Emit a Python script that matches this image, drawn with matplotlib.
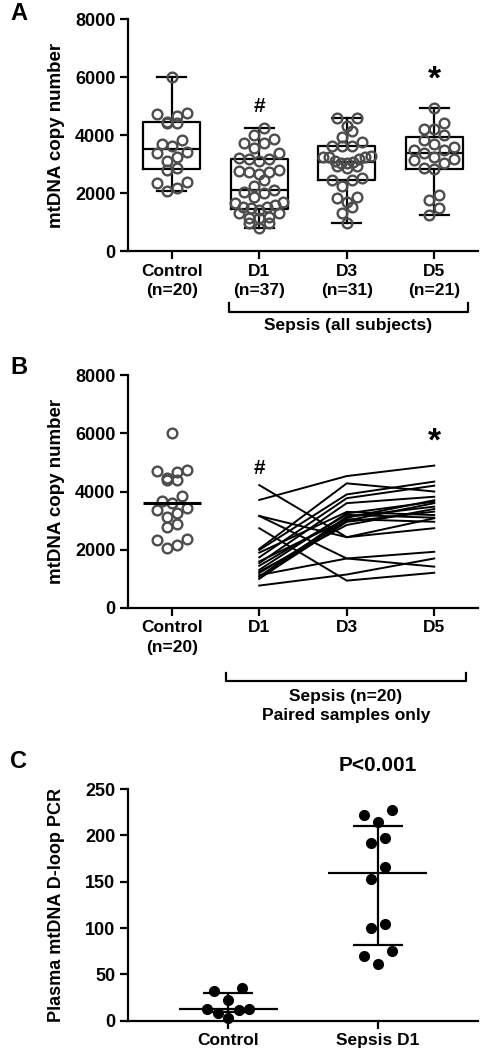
import numpy as np
import matplotlib
matplotlib.use("Agg")
import matplotlib.pyplot as plt

plt.rcParams["font.family"] = ["Liberation Sans", "DejaVu Sans"]
plt.rcParams["font.weight"] = "bold"
plt.rcParams["axes.labelweight"] = "bold"

# ---------- Data ----------
groups_a = ["Control\n(n=20)", "D1\n(n=37)", "D3\n(n=31)", "D5\n(n=21)"]
control = [6000, 4750, 4660, 4405, 4405, 4460, 4715, 3830, 3620, 3680,
           3250, 3370, 3425, 3115, 2875, 2795, 2335, 2070, 2160, 2370]
d1_all = [4230, 4000, 3715, 3715, 3850, 3565, 3390, 3165, 3115, 3165,
          3220, 2795, 2740, 2655, 2450, 2740, 2770, 2240, 2100, 1875,
          1990, 2045, 1590, 1400, 1475, 1530, 1530, 1185, 1130, 1300,
          1300, 1130, 955, 780, 955, 1700, 1650]
d3_all = [4580, 4580, 4310, 4140, 3945, 3770, 3620, 3620, 3620, 3250,
          3165, 3280, 3250, 3250, 3025, 2930, 2855, 2930, 3025, 3115,
          2510, 2240, 2440, 1875, 1700, 1820, 1530, 1300, 955, 2450, 3080]
d5_all = [4920, 4405, 4195, 4195, 4000, 3830, 3690, 3575, 3485, 3485,
          3370, 3250, 3165, 3025, 2850, 3140, 2830, 1930, 1760, 1475, 1240]

groups_b = ["Control\n(n=20)", "D1", "D3", "D5"]
paired_d1 = [4220, 3710, 3160, 2740, 770, 1130, 3160, 2030, 1990, 1740,
             1540, 1310, 1080, 1020, 1900, 1600, 1450, 1250, 1200, 1000]
paired_d3 = [2430, 4530, 1700, 940, 1150, 1700, 2430, 4280, 3900, 3770,
             3600, 3250, 3130, 2960, 3300, 3050, 3200, 2850, 3000, 3100]
paired_d5 = [2740, 4890, 1420, 1210, 1700, 1930, 3080, 4000, 4340, 4200,
             3820, 3650, 3480, 3310, 3190, 2960, 3100, 3400, 3600, 3700]

groups_c = ["Control", "Sepsis D1"]
dloop_control = [35, 32, 22, 13, 13, 12, 8, 3]
dloop_sepsis = [227, 222, 214, 197, 192, 166, 153, 104, 100, 75, 70, 61]

# ---------- Style ----------
LW = 1.6
CIRCLE = "#4d4d4d"

fig = plt.figure(figsize=(4.8, 10.5), dpi=100)
W, H = 480.0, 1050.0


def make_axes(top_px, bottom_px):
    ax = fig.add_axes([128 / W, 1 - bottom_px / H, 350 / W, (bottom_px - top_px) / H])
    for s in ("top", "right"):
        ax.spines[s].set_visible(False)
    for s in ("left", "bottom"):
        ax.spines[s].set_linewidth(LW)
    ax.tick_params(direction="out", length=6, width=LW, labelsize=13, pad=3)
    return ax


def scatter_x(ax, x0, values, row_px=10.0, step_px=10.0, max_px=48.0):
    # GraphPad-like layout: points binned into rows, lowest value in the
    # middle of a row, higher ones pushed outwards
    vals = np.asarray(values, float)
    p0 = ax.transData.transform((0, 0))
    p1 = ax.transData.transform((1, 1))
    sx, sy = p1 - p0
    row_h = row_px / sy
    xs = np.full(len(vals), float(x0))
    order = list(np.argsort(-vals, kind="stable"))
    while order:
        top = vals[order[0]]
        row = [i for i in order if top - vals[i] < row_h]
        order = [i for i in order if i not in row]
        n = len(row)
        step = step_px if (n - 1) * step_px <= max_px else max_px / (n - 1)
        slots = [(k - (n - 1) / 2) * step for k in range(n)]
        slots.sort(key=lambda s: (abs(s), s))
        for i, s in zip(sorted(row, key=lambda j: vals[j]), slots):
            xs[i] = x0 + s / sx
    return xs


def box_stats(values):
    v = np.asarray(values, float)
    q1, med, q3 = np.percentile(v, [25, 50, 75], method="weibull")
    return dict(med=med, q1=q1, q3=q3, whislo=v.min(), whishi=v.max(), fliers=[])


def bracket(ax, x0, x1, y, h, text, ty):
    tr = ax.get_xaxis_transform()
    ax.plot([x0, x0, x1, x1], [y + h, y, y, y + h], color="k", lw=LW,
            transform=tr, clip_on=False)
    ax.text((x0 + x1) / 2, ty, text, transform=tr, ha="center", va="center",
            fontsize=12.5, fontweight="bold", linespacing=1.35)


# ---------- Panel A ----------
axA = make_axes(19, 251)
axA.set_xlim(-0.5, 3.5)
axA.set_ylim(0, 8000)
axA.set_yticks([0, 2000, 4000, 6000, 8000])
data_a = [control, d1_all, d3_all, d5_all]
axA.bxp([box_stats(v) for v in data_a], positions=range(4), widths=0.65,
        capwidths=0.33, showfliers=False, manage_ticks=False,
        boxprops=dict(color="k", lw=LW), whiskerprops=dict(color="k", lw=LW),
        capprops=dict(color="k", lw=LW), medianprops=dict(color="k", lw=LW))
for i, v in enumerate(data_a):
    axA.plot(scatter_x(axA, i, v), v, "o", ms=7, mfc="none", mec=CIRCLE,
             mew=1.7, clip_on=False, zorder=3)
axA.set_xticks(range(4))
axA.set_xticklabels(groups_a, fontsize=12.5, linespacing=1.35)
axA.set_ylabel("mtDNA copy number", fontsize=13.5)
axA.yaxis.set_label_coords(-0.18, 0.5)
axA.text(1, 5000, "#", ha="center", va="center", fontsize=15)
axA.text(3, 5900, "*", ha="center", va="center", fontsize=24)
bracket(axA, 0.655, 3.38, -0.263, 0.039, "Sepsis (all subjects)", -0.323)
fig.text(10 / W, 1 - 14 / H, "A", fontsize=17, fontweight="bold", va="center")

# ---------- Panel B ----------
axB = make_axes(375, 608)
axB.set_xlim(-0.5, 3.5)
axB.set_ylim(0, 8000)
axB.set_yticks([0, 2000, 4000, 6000, 8000])
axB.plot(scatter_x(axB, 0, control), control, "o", ms=7, mfc="none", mec=CIRCLE,
         mew=1.7, clip_on=False, zorder=3)
axB.hlines(np.mean(control), -0.33, 0.33, color="k", lw=2.2, zorder=4)
days = [1, 2, 3]
for a, b, c in zip(paired_d1, paired_d3, paired_d5):
    axB.plot(days, [a, b, c], color="k", lw=1.4)
axB.set_xticks(range(4))
axB.set_xticklabels(groups_b, fontsize=12.5, linespacing=1.35)
axB.set_ylabel("mtDNA copy number", fontsize=13.5)
axB.yaxis.set_label_coords(-0.18, 0.5)
axB.text(1, 4800, "#", ha="center", va="center", fontsize=15)
axB.text(3, 5700, "*", ha="center", va="center", fontsize=24)
bracket(axB, 0.62, 3.36, -0.313, 0.035, "Sepsis (n=20)\nPaired samples only", -0.42)
fig.text(10 / W, 1 - 368 / H, "B", fontsize=17, fontweight="bold", va="center")

# ---------- Panel C ----------
axC = make_axes(789, 1020.7)
axC.set_xlim(-0.667, 1.667)
axC.set_ylim(0, 250)
axC.set_yticks([0, 50, 100, 150, 200, 250])
for i, v in enumerate([dloop_control, dloop_sepsis]):
    axC.plot(scatter_x(axC, i, v, row_px=13, step_px=14, max_px=42), v, "o",
             ms=7, color="k", clip_on=False, zorder=3)
    q1, med, q3 = np.percentile(v, [25, 50, 75], method="weibull")
    axC.hlines(med, i - 0.33, i + 0.33, color="k", lw=LW)
    axC.hlines([q1, q3], i - 0.165, i + 0.165, color="k", lw=LW)
    axC.vlines(i, q1, q3, color="k", lw=LW)
axC.set_xticks([0, 1])
axC.set_xticklabels(groups_c, fontsize=12.5)
axC.set_ylabel("Plasma mtDNA D-loop PCR", fontsize=13)
axC.yaxis.set_label_coords(-0.18, 0.5)
axC.text(1, 1.1, "P<0.001", transform=axC.get_xaxis_transform(),
         ha="center", va="center", fontsize=15)
fig.text(10 / W, 1 - 762 / H, "C", fontsize=17, fontweight="bold", va="center")

fig.savefig("out.png", dpi=100, facecolor="white")
